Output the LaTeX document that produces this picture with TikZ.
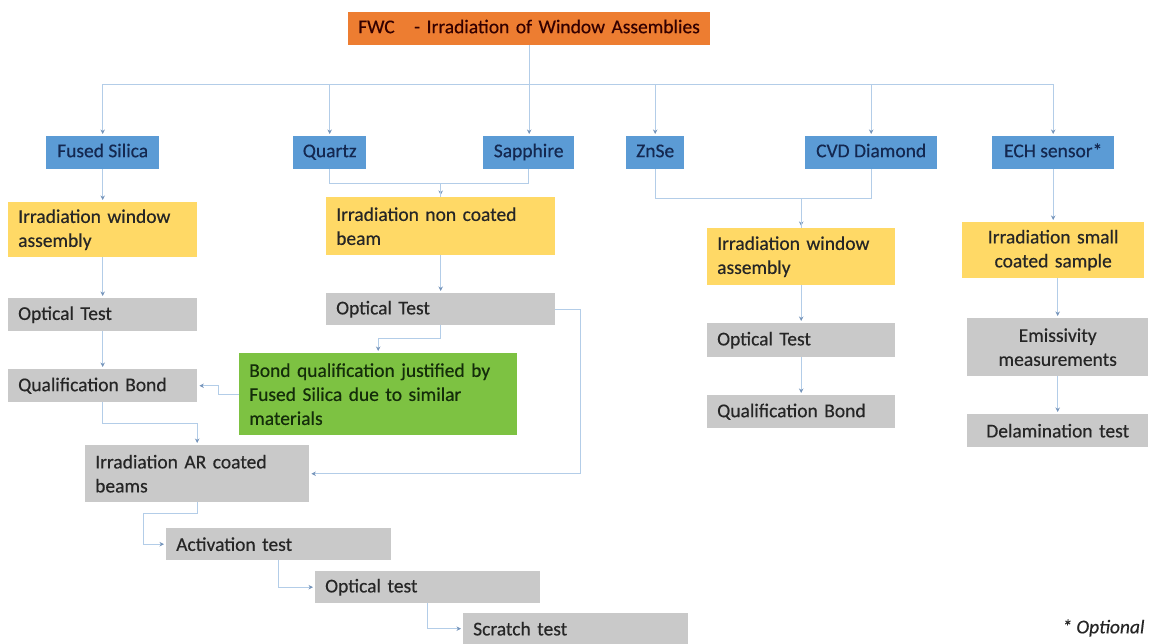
\documentclass[tikz,border=0pt]{standalone}
\usepackage{fontspec}
\setmainfont{Carlito}[FakeBold=0.4]
\usepackage{xcolor}
\usepackage{tikz}
\usetikzlibrary{arrows.meta}

\definecolor{fwcorange}{HTML}{ED7D31}
\definecolor{matblue}{HTML}{5B9BD5}
\definecolor{stepyellow}{HTML}{FFD966}
\definecolor{testgrey}{HTML}{C9C9C9}
\definecolor{bondgreen}{HTML}{7DC242}
\definecolor{linkblue}{HTML}{B3CDE8}
\definecolor{tipblue}{HTML}{7594BA}

\begin{document}
\begin{tikzpicture}[x=1pt,y=-1pt,
		box/.style={anchor=north west,inner xsep=10pt,inner ysep=0pt,align=left,text=black!85,font=\fontsize{19.5}{24}\selectfont},
		dim/.style 2 args={text width=#1-20,minimum height=#2},
		fwcbox/.style={box,fill=fwcorange,text=black!80!red,text height=13pt,text depth=4pt},
		matbox/.style 2 args={box,fill=matblue,inner xsep=0pt,align=center,minimum width=#1,minimum height=#2,text height=13pt,text depth=4pt,text={rgb,255:red,20;green,40;blue,80}},
		stepbox/.style={box,fill=stepyellow},
		testbox/.style={box,fill=testgrey},
		bondbox/.style={box,fill=bondgreen,text={rgb,255:red,20;green,45;blue,10}},
		link/.style={draw=linkblue,line width=1pt},
		arrow/.style={link,shorten >=2pt,-{Stealth[length=4.5pt,width=4.5pt,color=tipblue]}}]

				\useasboundingbox (0,0) rectangle (1153,644);

				\node[fwcbox,dim={362}{33}] (fwc) at (348,12) {FWC \ \ - Irradiation of Window Assemblies};

				\node[matbox={113}{33}] (fs) at (46,136) {Fused Silica};
				\node[matbox={73}{33}] (qz) at (293,136) {Quartz};
				\node[matbox={91}{33}] (sa) at (483,136) {Sapphire};
				\node[matbox={58}{33}] (zn) at (626,136) {ZnSe};
				\node[matbox={132}{33}] (cvd) at (805,136) {CVD Diamond};
				\node[matbox={122}{33}] (ech) at (992,136) {ECH sensor*};

				\node[stepbox,dim={189}{55}] (yl) at (8,202) {Irradiation window\\assembly};
				\node[stepbox,dim={229}{58}] (ym) at (326,197) {Irradiation non coated\\beam};
				\node[stepbox,dim={188}{57}] (yr) at (707,228) {Irradiation window\\assembly};
				\node[stepbox,dim={182}{56},align=center] (ys) at (962,222) {Irradiation small\\coated sample};

				\node[testbox,dim={189}{33}] (ot1) at (8,298) {Optical Test};
				\node[testbox,dim={189}{33}] (qb1) at (8,369) {Qualification Bond};
				\node[testbox,dim={224}{57}] (iar) at (85,445) {Irradiation AR coated\\beams};
				\node[testbox,dim={225}{32}] (act) at (166,528) {Activation test};
				\node[testbox,dim={225}{32}] (ot3) at (315,571) {Optical test};
				\node[testbox,dim={225}{31}] (sc) at (463,613) {Scratch test};
				\node[testbox,dim={229}{32}] (ot2) at (326,293) {Optical Test};
				\node[testbox,dim={188}{34}] (ot4) at (707,323) {Optical Test};
				\node[testbox,dim={188}{33}] (qb2) at (707,395) {Qualification Bond};
				\node[testbox,dim={181}{58},align=center] (em) at (967,318) {Emissivity\\measurements};
				\node[testbox,dim={181}{33},align=center] (de) at (967,414) {Delamination test};

				\node[bondbox,dim={278}{82}] (gr) at (239,353) {Bond qualification justified by\\Fused Silica due to similar\\materials};

				\node[anchor=east,text=black!85,font=\fontsize{19.5}{24}\selectfont\itshape] (opt) at (1148,628) {* Optional};

				\coordinate (bus) at (fwc.south |- 0,85);

				\draw[arrow] (fwc.south) -- (fwc.south |- sa.north);
				\foreach \m in {fs,qz,zn,cvd,ech}
					\draw[arrow] (bus) -| (\m);

				\draw[arrow] (qz.south) -- ++(0,14) -| (ym.north);
				\draw[link] (sa.south) -- ++(0,14) -| (ym.north);
				\draw[arrow] (zn.south) -- ++(0,29) -| (yr.north);
				\draw[link] (cvd.south) -- ++(0,29) -| (yr.north);

				\draw[arrow] (fs) -- (yl);
				\draw[arrow] (yl) -- (ot1);
				\draw[arrow] (ot1) -- (qb1);
				\draw[arrow] (qb1.south) -- ++(0,21) -| (iar.north);
				\draw[arrow] (iar.south) -- ++(0,11) -- ++(-54,0) |- (act.west);
				\draw[arrow] (act.south) |- (ot3.west);
				\draw[arrow] (ot3.south) |- (sc.west);

				\draw[arrow] (ym) -- (ot2);
				\draw[arrow] (ot2.south) -- ++(0,13) -| (gr.north);
				\draw[arrow] (gr.west) -- ++(-21,0) |- (qb1.east);
				\draw[arrow] (ot2.east) -- ++(25,0) |- (iar.east);

				\draw[arrow] (yr) -- (ot4);
				\draw[arrow] (ot4) -- (qb2);

				\draw[arrow] (ech) -- (ys);
				\draw[arrow] (em.north |- ys.south) -- (em.north);
				\draw[arrow] (em) -- (de);
			\end{tikzpicture}
\end{document}
